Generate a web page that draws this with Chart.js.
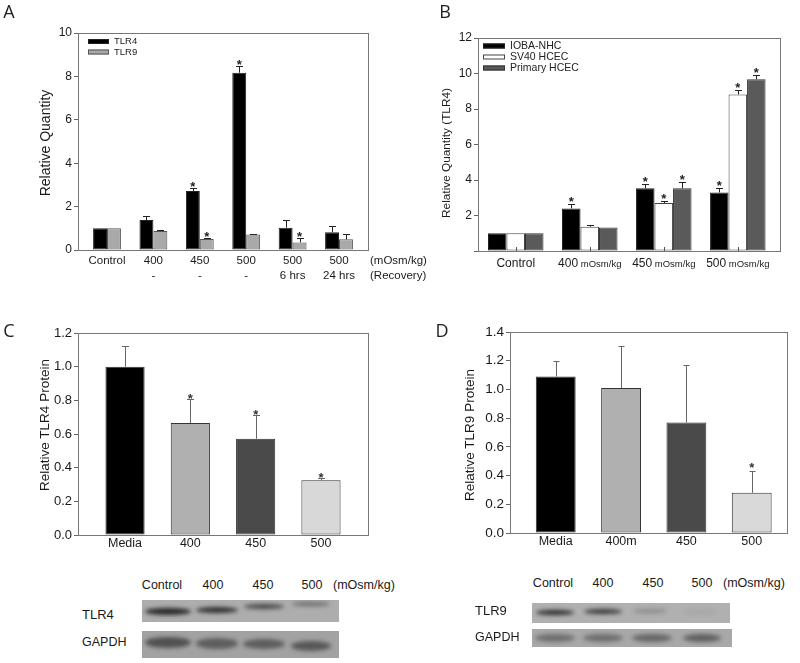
<!DOCTYPE html>
<html>
<head>
<meta charset="utf-8">
<script src="https://cdn.jsdelivr.net/npm/chart.js@4.4.0/dist/chart.umd.min.js"></script>
<style>
body { margin: 0; background: #fff; }
#page { position: relative; width: 800px; height: 663px; overflow: hidden; font-family: "Liberation Sans", Arial, sans-serif; color: #1a1a1a; }
canvas { position: absolute; }
.t { position: absolute; white-space: nowrap; line-height: 1; transform: translate(0, -50%); }
.c { transform: translate(-50%, -50%); }
.letter { font-family: "Open Sans", sans-serif; font-size: 18px; color: #222; }
.ytitle { transform: translate(-50%, -50%) rotate(-90deg); }
.blot { position: absolute; overflow: hidden; filter: blur(0.6px); }
.band { position: absolute; border-radius: 50%; filter: blur(2px); }
</style>
</head>
<body>
<div id="page">
  <canvas id="cA" width="400" height="295" style="left:0;top:0"></canvas>
  <canvas id="cB" width="400" height="295" style="left:400px;top:0"></canvas>
  <canvas id="cC" width="400" height="260" style="left:0;top:300px"></canvas>
  <canvas id="cD" width="400" height="260" style="left:400px;top:300px"></canvas>

  <div class="t c letter" style="left:9px;top:11px">A</div>
  <div class="t c letter" style="left:445px;top:11px">B</div>
  <div class="t c letter" style="left:9px;top:330px">C</div>
  <div class="t c letter" style="left:442px;top:330px">D</div>

  <div class="t ytitle" style="left:45px;top:143px;font-size:14px">Relative Quantity</div>
  <div class="t ytitle" style="left:447px;top:153px;font-size:11.8px">Relative Quantity (TLR4)</div>
  <div class="t ytitle" style="left:45px;top:425px;font-size:13.5px">Relative TLR4 Protein</div>
  <div class="t ytitle" style="left:470px;top:435px;font-size:13.5px">Relative TLR9 Protein</div>

  <div class="t" style="left:370px;top:261px;font-size:11.5px">(mOsm/kg)</div>
  <div class="t" style="left:370px;top:276px;font-size:11.5px">(Recovery)</div>
</div>

<script>
// ---- Panel A: mRNA, IOBA-NHC, TLR4 / TLR9
const catsA = [['Control', ''], ['400', '-'], ['450', '-'], ['500', '-'], ['500', '6 hrs'], ['500', '24 hrs']];
const tlr4A = [1.0, 1.38, 2.72, 8.17, 1.03, 0.82];
const tlr4ErrA = [0, 0.20, 0.13, 0.33, 0.35, 0.30];
const tlr4SigA = [0, 0, 1, 1, 0, 0];
const tlr9A = [1.0, 0.88, 0.51, 0.71, 0.35, 0.49];
const tlr9ErrA = [0, 0.04, 0.06, 0.04, 0.22, 0.23];
const tlr9SigA = [0, 0, 1, 0, 1, 0];
const ticksA = [0, 2, 4, 6, 8, 10];

// ---- Panel B: TLR4 in three cell types
const catsB = ['Control', '400', '450', '500'];
const unitB = 'mOsm/kg';
const iobaB = [1.0, 2.40, 3.53, 3.30];
const iobaErrB = [0, 0.25, 0.24, 0.25];
const iobaSigB = [0, 1, 1, 1];
const sv40B = [1.0, 1.37, 2.70, 8.82];
const sv40ErrB = [0, 0.09, 0.10, 0.24];
const sv40SigB = [0, 0, 1, 1];
const primB = [1.0, 1.33, 3.53, 9.68];
const primErrB = [0, 0, 0.33, 0.22];
const primSigB = [0, 0, 1, 1];

// ---- Panel C: TLR4 protein
const catsC = ['Media', '400', '450', '500'];
const tlr4C = [1.0, 0.665, 0.572, 0.325];
const tlr4ErrC = [0.125, 0.143, 0.141, 0.015];
const tlr4SigC = [0, 1, 1, 1];

// ---- Panel D: TLR9 protein
const catsD = ['Media', '400m', '450', '500'];
const tlr9D = [1.09, 1.01, 0.77, 0.28];
const tlr9ErrD = [0.11, 0.29, 0.40, 0.154];
const tlr9SigD = [0, 0, 0, 1];

// ---- Western blots (band strength per lane)
const blotLanes = ['Control', '400', '450', '500'];
const blotUnit = '(mOsm/kg)';
const tlr4Bands = [0.9, 0.85, 0.7, 0.45];
const gapdhBandsC = [0.6, 0.5, 0.5, 0.55];
const tlr9Bands = [0.9, 0.8, 0.25, 0.06];
const gapdhBandsD = [0.4, 0.4, 0.45, 0.5];

Chart.defaults.font.family = '"Liberation Sans", Arial, sans-serif';
Chart.defaults.color = '#1a1a1a';

function pts(vals) {
    return vals.map(function (v, i) { return { x: i, y: v }; });
}

// marco alrededor del area del grafico
const frame = {
    id: 'frame',
    beforeDatasetsDraw(chart, args, o) {
        const a = chart.chartArea, ctx = chart.ctx;
        ctx.save();
        ctx.strokeStyle = o.color || '#777';
        ctx.lineWidth = 1;
        ctx.strokeRect(Math.round(a.left) + 0.5, Math.round(a.top) + 0.5, Math.round(a.right - a.left), Math.round(a.bottom - a.top));
        ctx.restore();
    }
};

// barras de error (solo hacia arriba) y asteriscos
const errStars = {
    id: 'errStars',
    afterDatasetsDraw(chart, args, o) {
        const ctx = chart.ctx, y = chart.scales.y;
        chart.data.datasets.forEach(function (ds, di) {
            const meta = chart.getDatasetMeta(di);
            meta.data.forEach(function (bar, i) {
                const v = ds.data[i].y, e = ds.errors[i];
                const top = y.getPixelForValue(v + e);
                const x = Math.round(bar.x) + 0.5, ty = Math.round(top) + 0.5;
                ctx.save();
                ctx.strokeStyle = o.color;
                ctx.lineWidth = 1;
                if (e > 0) {
                    ctx.beginPath();
                    ctx.moveTo(x, bar.y);
                    ctx.lineTo(x, ty);
                    ctx.moveTo(x - o.cap / 2, ty);
                    ctx.lineTo(x + o.cap / 2, ty);
                    ctx.stroke();
                }
                if (ds.stars[i]) {
                    ctx.fillStyle = o.starColor;
                    ctx.font = o.starFont;
                    ctx.textAlign = 'center';
                    ctx.textBaseline = 'alphabetic';
                    ctx.fillText('*', bar.x, top + o.starDy);
                }
                ctx.restore();
            });
        });
    }
};

// leyenda dentro del area
const boxLegend = {
    id: 'boxLegend',
    afterDraw(chart, args, o) {
        const ctx = chart.ctx, a = chart.chartArea;
        chart.data.datasets.forEach(function (ds, i) {
            const x = a.left + o.dx, cy = a.top + o.dy + i * o.row;
            ctx.save();
            ctx.fillStyle = ds.backgroundColor;
            ctx.fillRect(x, cy - o.h / 2, o.w, o.h);
            ctx.strokeStyle = ds.borderColor;
            ctx.lineWidth = 1;
            ctx.strokeRect(x + 0.5, cy - o.h / 2 + 0.5, o.w - 1, o.h - 1);
            ctx.fillStyle = '#222';
            ctx.font = o.font;
            ctx.textAlign = 'left';
            ctx.textBaseline = 'middle';
            ctx.fillText(ds.label, x + o.w + o.gap, cy);
            ctx.restore();
        });
    }
};

// etiquetas del eje x en B (numero grande + unidad pequena)
const mixedLabels = {
    id: 'mixedLabels',
    afterDraw(chart, args, o) {
        const ctx = chart.ctx, xs = chart.scales.x, a = chart.chartArea;
        ctx.save();
        catsB.forEach(function (c, i) {
            const cx = xs.getPixelForValue(i);
            ctx.strokeStyle = '#555';
            ctx.lineWidth = 1;
            ctx.beginPath();
            ctx.moveTo(Math.round(cx) + 0.5, a.bottom);
            ctx.lineTo(Math.round(cx) + 0.5, a.bottom - 4);
            ctx.stroke();
            const unit = i ? ' ' + unitB : '';
            ctx.font = o.big;
            const w1 = ctx.measureText(c).width;
            ctx.font = o.small;
            const w2 = unit ? ctx.measureText(unit).width : 0;
            const x0 = cx - (w1 + w2) / 2;
            ctx.fillStyle = '#1a1a1a';
            ctx.textAlign = 'left';
            ctx.textBaseline = 'alphabetic';
            ctx.font = o.big;
            ctx.fillText(c, x0, a.bottom + o.dy);
            if (unit) {
                ctx.font = o.small;
                ctx.fillText(unit, x0 + w1, a.bottom + o.dy);
            }
        });
        ctx.restore();
    }
};

function yScale(max, step, width, size, fmt) {
    return {
        min: 0, max: max,
        ticks: { stepSize: step, padding: 2, font: { size: size }, callback: fmt },
        grid: { drawOnChartArea: false, drawTicks: true, tickLength: 4, color: '#666' },
        border: { display: false },
        afterFit: function (s) { s.width = width; }
    };
}

function xScale(cats, min, max, height, size, lh, pad, show) {
    return {
        type: 'linear', min: min, max: max, offset: false,
        grid: { display: false, drawTicks: false },
        border: { display: false },
        afterBuildTicks: function (s) { s.ticks = cats.map(function (c, i) { return { value: i }; }); },
        afterFit: function (s) { s.height = height; },
        ticks: { display: show, padding: pad, autoSkip: false, maxRotation: 0, font: { size: size, lineHeight: lh },
                 callback: function (v) { return cats[v]; } }
    };
}

// A
new Chart(document.getElementById('cA'), {
    type: 'bar',
    data: {
        datasets: [
            { label: 'TLR4', data: pts(tlr4A), errors: tlr4ErrA, stars: tlr4SigA, backgroundColor: '#000', borderColor: '#222', borderWidth: 1, borderSkipped: false },
            { label: 'TLR9', data: pts(tlr9A), errors: tlr9ErrA, stars: tlr9SigA, backgroundColor: '#a9a9a9', borderColor: '#555', borderWidth: 1, borderSkipped: false }
        ]
    },
    options: {
        responsive: false, animation: false, devicePixelRatio: 1,
        layout: { padding: { top: 33, right: 32, left: 0, bottom: 0 } },
        datasets: { bar: { categoryPercentage: 0.6, barPercentage: 1 } },
        scales: {
            x: xScale(catsA, -0.625, 5.625, 45, 11.5, 1.35, 3, true),
            y: yScale(10, 2, 78, 12, function (v) { return ticksA.indexOf(v) >= 0 ? String(v) : ''; })
        },
        plugins: {
            legend: { display: false }, tooltip: { enabled: false },
            frame: { color: '#777' },
            errStars: { color: '#222', cap: 7, starColor: '#222', starFont: 'bold 13px "Liberation Sans"', starDy: 3 },
            boxLegend: { dx: 10, dy: 8.5, row: 10.5, w: 21, h: 5, gap: 5, font: '9.5px "Liberation Sans"' }
        }
    },
    plugins: [frame, errStars, boxLegend]
});

// B
new Chart(document.getElementById('cB'), {
    type: 'bar',
    data: {
        datasets: [
            { label: 'IOBA-NHC', data: pts(iobaB), errors: iobaErrB, stars: iobaSigB, backgroundColor: '#000', borderColor: '#222', borderWidth: 1, borderSkipped: false },
            { label: 'SV40 HCEC', data: pts(sv40B), errors: sv40ErrB, stars: sv40SigB, backgroundColor: '#fff', borderColor: '#444', borderWidth: 1, borderSkipped: false },
            { label: 'Primary HCEC', data: pts(primB), errors: primErrB, stars: primSigB, backgroundColor: '#5a5a5a', borderColor: '#333', borderWidth: 1, borderSkipped: false }
        ]
    },
    options: {
        responsive: false, animation: false, devicePixelRatio: 1,
        layout: { padding: { top: 38, right: 20, left: 0, bottom: 0 } },
        datasets: { bar: { categoryPercentage: 0.75, barPercentage: 1 } },
        scales: {
            x: xScale(catsB, -0.51, 3.57, 44, 12, 1.2, 3, false),
            y: yScale(12, 2, 78, 12, function (v) { return v === 0 ? '' : String(v); })
        },
        plugins: {
            legend: { display: false }, tooltip: { enabled: false },
            frame: { color: '#777' },
            errStars: { color: '#222', cap: 7, starColor: '#222', starFont: 'bold 13px "Liberation Sans"', starDy: 2 },
            boxLegend: { dx: 5, dy: 8, row: 11, w: 22, h: 5, gap: 5, font: '10.5px "Liberation Sans"' },
            mixedLabels: { big: '12px "Liberation Sans"', small: '9.5px "Liberation Sans"', dy: 16 }
        }
    },
    plugins: [frame, errStars, boxLegend, mixedLabels]
});

// C
new Chart(document.getElementById('cC'), {
    type: 'bar',
    data: {
        datasets: [
            { label: 'TLR4', data: pts(tlr4C), errors: tlr4ErrC, stars: tlr4SigC,
              backgroundColor: ['#000', '#b0b0b0', '#4a4a4a', '#d8d8d8'], borderColor: '#333', borderWidth: 1, borderSkipped: false }
        ]
    },
    options: {
        responsive: false, animation: false, devicePixelRatio: 1,
        layout: { padding: { top: 33, right: 32, left: 0, bottom: 0 } },
        datasets: { bar: { categoryPercentage: 0.6, barPercentage: 1 } },
        scales: {
            x: xScale(catsC, -0.72, 3.72, 25, 12.5, 1.2, 1, true),
            y: yScale(1.2, 0.2, 78, 13, function (v) { return v.toFixed(1); })
        },
        plugins: {
            legend: { display: false }, tooltip: { enabled: false },
            frame: { color: '#777' },
            errStars: { color: '#666', cap: 7, starColor: '#333', starFont: 'bold 13px "Liberation Sans"', starDy: 4 }
        }
    },
    plugins: [frame, errStars]
});

// D
new Chart(document.getElementById('cD'), {
    type: 'bar',
    data: {
        datasets: [
            { label: 'TLR9', data: pts(tlr9D), errors: tlr9ErrD, stars: tlr9SigD,
              backgroundColor: ['#000', '#b0b0b0', '#4a4a4a', '#d9d9d9'], borderColor: '#333', borderWidth: 1, borderSkipped: false }
        ]
    },
    options: {
        responsive: false, animation: false, devicePixelRatio: 1,
        layout: { padding: { top: 32, right: 13, left: 0, bottom: 0 } },
        datasets: { bar: { categoryPercentage: 0.61, barPercentage: 1 } },
        scales: {
            x: xScale(catsD, -0.70, 3.54, 27, 12.5, 1.2, 1, true),
            y: yScale(1.4, 0.2, 110, 13.5, function (v) { return v.toFixed(1); })
        },
        plugins: {
            legend: { display: false }, tooltip: { enabled: false },
            frame: { color: '#777' },
            errStars: { color: '#666', cap: 6, starColor: '#333', starFont: 'bold 13px "Liberation Sans"', starDy: 1 }
        }
    },
    plugins: [frame, errStars]
});

// ---- blots (imagenes de western blot, dibujadas con divs)
const page = document.getElementById('page');

function text(str, x, y, size, center) {
    const d = document.createElement('div');
    d.className = center ? 't c' : 't';
    d.textContent = str;
    d.style.left = x + 'px';
    d.style.top = y + 'px';
    d.style.fontSize = size + 'px';
    page.appendChild(d);
}

function blot(box, bands, laneX, bandY, bandW, bandH) {
    const el = document.createElement('div');
    el.className = 'blot';
    Object.assign(el.style, { left: box.x + 'px', top: box.y + 'px', width: box.w + 'px', height: box.h + 'px', background: box.bg });
    bands.forEach(function (a, i) {
        const d = document.createElement('div');
        d.className = 'band';
        const h = bandH[i];
        Object.assign(d.style, {
            left: (laneX[i] - box.x - bandW[i] / 2) + 'px',
            top: (bandY[i] - box.y - h / 2) + 'px',
            width: bandW[i] + 'px', height: h + 'px',
            background: 'rgba(25,25,25,' + a + ')'
        });
        el.appendChild(d);
    });
    page.appendChild(el);
}

// C blot
[162, 213, 263, 312].forEach(function (x, i) { text(blotLanes[i], x, 585, 12.5, true); });
text(blotUnit, 333, 585, 12.5, false);
text('TLR4', 82, 614, 13, false);
text('GAPDH', 82, 642, 12.5, false);
blot({ x: 142, y: 600, w: 197, h: 22, bg: '#adadad' }, tlr4Bands,
     [168, 217, 264, 311], [611, 609.5, 606.5, 603.5], [46, 42, 40, 38], [7, 6, 5, 4]);
blot({ x: 142, y: 631, w: 197, h: 27, bg: '#a2a2a2' }, gapdhBandsC,
     [168, 217, 264, 311], [642, 643, 644, 646], [46, 42, 42, 40], [11, 11, 10, 10]);

// D blot
[553, 603, 653, 702].forEach(function (x, i) { text(blotLanes[i], x, 583, 12.5, true); });
text(blotUnit, 723, 583, 12.5, false);
text('TLR9', 475, 610, 13, false);
text('GAPDH', 475, 637, 12.5, false);
blot({ x: 532, y: 603, w: 198, h: 20, bg: '#b0b0b0' }, tlr9Bands,
     [555, 603, 650, 700], [612, 611, 611, 612], [38, 38, 34, 34], [5, 5, 4, 4]);
blot({ x: 532, y: 629, w: 200, h: 18, bg: '#a8a8a8' }, gapdhBandsD,
     [555, 603, 652, 702], [638, 638, 638, 638], [40, 40, 40, 38], [8, 8, 8, 8]);
</script>
</body>
</html>
